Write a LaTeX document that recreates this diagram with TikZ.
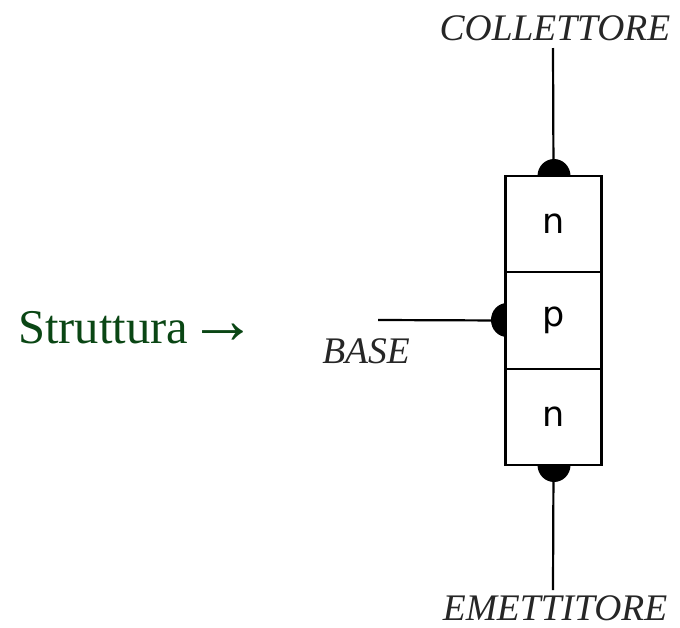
\documentclass[tikz,border=0pt]{standalone}
\usepackage{fontspec}
\setmainfont{Liberation Serif}
\newfontfamily\cellfont{DejaVu Sans}[Scale=1]
\definecolor{sgreen}{RGB}{10,70,20}
\tikzset{
  cell/.style={draw=black,line width=2.4pt,minimum width=96pt,minimum height=96.5pt,inner sep=0pt,font=\cellfont\fontsize{35}{35}\selectfont},
  lab/.style={font=\itshape\fontsize{37.5}{37.5}\selectfont,inner sep=0pt,text=black!85,anchor=base},
  wire/.style={draw=black,line width=2.2pt}
}
\begin{document}
\begin{tikzpicture}[x=1pt,y=-1pt]
\useasboundingbox (0,0) rectangle (680,627);
\fill[black] (554,176) ellipse (16.5 and 17);
\fill[black] (554,465) ellipse (16.5 and 17);
\fill[black] (507,320) ellipse (16 and 17);
\node[cell,fill=white] (n1) at (553.5,224) {n};
\node[cell,fill=white] (p) at (553.5,320.5) {p};
\node[cell,fill=white] (n2) at (553.5,417) {n};
\node[lab] (c) at (555,40) {COLLETTORE};
\node[lab] (b) at (366,363) {BASE};
\node[lab] (e) at (555,620) {EMETTITORE};
\coordinate (ct) at (553,48);
\coordinate (bl) at (378,320);
\coordinate (eb) at (553,590);
\draw[wire] (ct) -- (n1.north);
\draw[wire] (bl) -- (p.west);
\draw[wire] (n2.south) -- (eb);
\node[font=\fontsize{48.5}{48.5}\selectfont,text=sgreen,anchor=base west,inner sep=0pt] (s) at (18,343) {Struttura\hspace{1pt}\scalebox{1.42}{→}};
\end{tikzpicture}
\end{document}
